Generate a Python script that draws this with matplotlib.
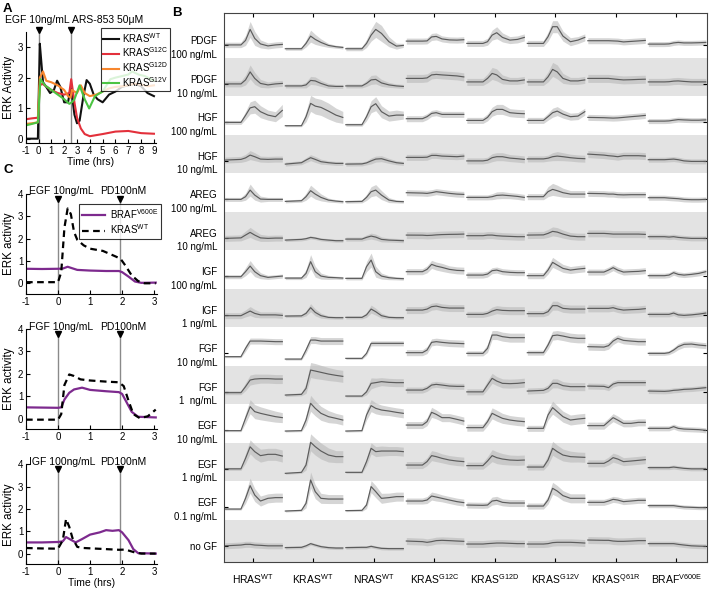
import numpy as np
import matplotlib.pyplot as plt

plt.rcParams['font.family'] = ['Liberation Sans', 'DejaVu Sans']
plt.rcParams['mathtext.fontset'] = 'custom'
plt.rcParams['mathtext.rm'] = 'Liberation Sans'
plt.rcParams['axes.unicode_minus'] = False
plt.rcParams['font.size'] = 7.5

# ========================================
# DATA - panel A (ERK activity after EGF, then ARS-853)
# ========================================
a_wt_t = [-1, -0.5, -0.05, 0.02, 0.1, 0.2, 0.35, 0.6, 0.9, 1.2, 1.45, 1.7, 2.0, 2.3, 2.5,
          2.65, 2.8, 3.0, 3.2, 3.5, 3.75, 4.0, 4.3, 4.6, 5.0, 5.5, 6.0, 6.5, 7.0, 7.5, 8.0, 8.5, 9.0]
a_wt = [0.02, 0.02, 0.02, 1.5, 3.1, 2.6, 1.85, 1.7, 1.5, 1.6, 1.9, 1.7, 1.2, 1.2, 1.65,
        1.3, 0.8, 0.52, 0.6, 1.4, 1.92, 1.8, 1.45, 1.3, 1.2, 1.45, 1.55, 1.7, 1.75, 1.8, 1.72, 1.5, 1.4]
a_g12c_t = [-1, -0.5, -0.05, 0.1, 0.3, 1.0, 1.5, 2.0, 2.4, 2.55, 2.8, 3.0, 3.3, 3.6, 4.0, 5.0,
            6.0, 7.0, 8.0, 9.0]
a_g12c = [0.65, 0.68, 0.7, 1.75, 1.8, 1.6, 1.5, 1.45, 1.5, 1.95, 1.2, 0.7, 0.35, 0.17, 0.1, 0.17,
          0.25, 0.27, 0.2, 0.18]
a_g12d_t = [-1, -0.5, -0.05, 0.1, 0.35, 0.6, 1.0, 1.5, 2.0, 2.3, 2.5, 2.6, 3.0, 3.3, 3.6, 4.0,
            4.5, 5.0, 5.5, 6.0, 6.5, 7.0, 7.5, 8.0, 8.5, 9.0]
a_g12d = [0.5, 0.52, 0.55, 2.0, 2.2, 1.9, 1.85, 1.75, 1.6, 1.4, 1.35, 1.6, 1.5, 1.75, 1.5, 1.4,
          1.45, 1.55, 1.65, 1.7, 1.72, 1.75, 1.8, 1.78, 1.72, 1.75]
a_g12v_t = [-1, -0.5, -0.05, 0.15, 0.5, 1.0, 1.5, 2.0, 2.4, 2.6, 2.8, 3.2, 3.6, 3.95, 4.4, 5.0,
            5.6, 6.0, 6.5, 7.0, 7.3, 7.8, 8.3, 9.0]
a_g12v = [0.45, 0.5, 0.55, 1.95, 1.75, 1.6, 1.45, 1.3, 1.15, 1.2, 1.3, 1.75, 1.3, 1.0, 1.4, 1.55,
          1.95, 2.0, 2.05, 2.1, 2.2, 2.1, 2.05, 1.9]
a_labels = ['KRAS$^{\\mathregular{WT}}$', 'KRAS$^{\\mathregular{G12C}}$',
            'KRAS$^{\\mathregular{G12D}}$', 'KRAS$^{\\mathregular{G12V}}$']
a_colors = ['#111111', '#e3303b', '#f7862e', '#4cc443']

# ========================================
# DATA - panel C (BRAF V600E vs KRAS WT, then PD)
# ========================================
c_braf_t = [
    [-1, -0.5, 0, 0.15, 0.3, 0.6, 1.0, 1.5, 1.9, 2.0, 2.2, 2.4, 2.6, 3.05],
    [-1, -0.5, 0, 0.1, 0.2, 0.35, 0.5, 0.75, 1.0, 1.5, 1.9, 2.0, 2.15, 2.3, 2.5, 3.05],
    [-1, -0.5, 0, 0.15, 0.25, 0.4, 0.55, 0.75, 1.0, 1.3, 1.5, 1.7, 1.9, 2.0, 2.2, 2.35, 2.5, 3.05],
]
c_braf = [
    [0.65, 0.64, 0.65, 0.66, 0.74, 0.6, 0.57, 0.55, 0.55, 0.5, 0.3, 0.08, 0.02, 0.03],
    [0.5, 0.49, 0.48, 0.5, 0.85, 1.15, 1.3, 1.38, 1.28, 1.22, 1.18, 1.1, 0.7, 0.3, 0.08, 0.05],
    [0.5, 0.5, 0.52, 0.55, 0.74, 0.62, 0.5, 0.65, 0.85, 0.95, 1.05, 1.02, 1.05, 0.95, 0.6, 0.2, 0.02, 0.0],
]
c_kras_t = [
    [-1, -0.5, 0, 0.1, 0.2, 0.3, 0.4, 0.5, 0.6, 0.8, 1.0, 1.4, 1.8, 1.95, 2.1, 2.3, 2.5, 2.7, 3.05],
    [-1, -0.5, 0, 0.1, 0.2, 0.35, 0.5, 0.7, 1.0, 1.5, 1.9, 2.05, 2.2, 2.35, 2.55, 2.8, 3.05],
    [-1, -0.5, 0, 0.15, 0.25, 0.35, 0.45, 0.6, 0.8, 1.5, 1.9, 2.1, 2.4, 2.6, 3.05],
]
c_kras = [
    [0.05, 0.05, 0.05, 0.5, 2.5, 3.35, 3.1, 2.3, 1.95, 1.7, 1.55, 1.45, 1.2, 1.1, 0.8, 0.35, 0.1, 0.0, 0.0],
    [-0.05, -0.05, -0.05, 0.2, 1.5, 1.97, 1.9, 1.75, 1.7, 1.65, 1.62, 1.45, 0.8, 0.2, 0.02, 0.1, 0.4],
    [0.25, 0.23, 0.22, 0.6, 1.55, 1.2, 0.7, 0.3, 0.25, 0.2, 0.17, 0.18, 0.05, 0.0, 0.0],
]
c_stim = ['EGF 10ng/mL', 'FGF 10ng/mL', 'IGF 100ng/mL']

# ========================================
# DATA - panel B (mean and spread, 8 cell lines per condition)
# sampled at fractions of each cell's time window
# ========================================
b_frac = [0, 0.28, 0.36, 0.44, 0.52, 0.62, 0.75, 0.88, 1.0]
b_cols = ['HRAS$^{\\mathregular{WT}}$', 'KRAS$^{\\mathregular{WT}}$', 'NRAS$^{\\mathregular{WT}}$',
          'KRAS$^{\\mathregular{G12C}}$', 'KRAS$^{\\mathregular{G12D}}$', 'KRAS$^{\\mathregular{G12V}}$',
          'KRAS$^{\\mathregular{Q61R}}$', 'BRAF$^{\\mathregular{V600E}}$']
b_rows = ['PDGF\n100 ng/mL', 'PDGF\n10 ng/mL', 'HGF\n100 ng/mL', 'HGF\n10 ng/mL',
          'AREG\n100 ng/mL', 'AREG\n10 ng/mL', 'IGF\n100 ng/mL', 'IGF\n1 ng/mL',
          'FGF\n10 ng/mL', 'FGF\n1  ng/mL', 'EGF\n10 ng/mL', 'EGF\n1 ng/mL',
          'EGF\n0.1 ng/mL', 'no GF']

pdgf100 = [
    [.05, .05, .5, 1.6, .7, .15, -.05, .05, .1],
    [-.33, -.33, .2, .93, .6, .3, 0, -.13, -.2],
    [-.33, -.33, .2, 1.03, 1.6, 1.2, .37, -.07, 0],
    [.43, .43, .45, .85, .9, .65, .55, .53, .57],
    [.2, .2, .37, 1.03, 1.27, .8, .53, .6, .8],
    [.2, .2, .87, 1.87, 1.87, .93, .37, .53, .8],
    [.47, .47, .47, .45, .43, .35, .4, .45, .5],
    [.13, .13, .15, .25, .3, .25, .25, .27, .3],
]
pdgf100_sd = [
    [.27, .27, .5, .8, .7, .4, .3, .3, .3],
    [.15, .15, .35, .6, .5, .35, .2, .15, .15],
    [.2, .2, .4, .6, .8, .8, .5, .3, .2],
    [.3, .3, .3, .35, .35, .3, .3, .3, .3],
    [.3, .3, .35, .5, .6, .45, .35, .35, .35],
    [.3, .3, .45, .6, .6, .5, .4, .35, .35],
    [.3, .3, .3, .3, .3, .3, .3, .3, .3],
    [.25, .25, .25, .25, .25, .25, .25, .25, .25],
]
pdgf10 = [
    [0, 0, .4, 1.2, .55, .05, -.1, 0, .05],
    [-.2, -.2, -.1, .35, .3, .05, -.2, -.25, -.25],
    [-.2, -.2, .05, .4, .45, .1, -.1, -.2, -.25],
    [.55, .55, .6, .9, .95, .9, .85, .8, .7],
    [.2, .2, .55, 1.05, .9, .45, .3, .3, .4],
    [.2, .2, .7, 1.45, 1.2, .55, .3, .3, .4],
    [.55, .55, .55, .5, .45, .4, .42, .45, .47],
    [.2, .2, .22, .28, .3, .25, .2, .2, .2],
]
pdgf10_sd = [
    [.3, .3, .5, .7, .6, .4, .3, .3, .3],
    [.2, .2, .3, .4, .4, .3, .25, .2, .2],
    [.2, .2, .3, .45, .45, .35, .25, .2, .2],
    [.4, .4, .4, .4, .4, .4, .4, .4, .4],
    [.35, .35, .45, .6, .6, .45, .35, .35, .35],
    [.35, .35, .5, .7, .7, .5, .35, .35, .35],
    [.4, .4, .4, .4, .4, .4, .4, .4, .4],
    [.35, .35, .35, .35, .35, .35, .35, .35, .35],
]
hgf100 = [
    [0, 0, .7, 1.45, 1.57, 1.07, .73, .57, 1.2],
    [-.33, -.33, .57, 1.9, 1.63, 1.5, 1.13, .73, .5],
    [-.23, -.23, .57, 1.57, 1.87, 1.07, .63, .73, .73],
    [.37, .37, .57, .9, .97, .8, .8, .8, .8],
    [.2, .2, .5, 1.07, 1.3, 1.3, .97, .9, .87],
    [.2, .2, .57, .97, 1.13, .83, .57, .63, 1.07],
    [.5, .47, .45, .43, .45, .5, .57, .63, .7],
    [.13, .13, .15, .22, .28, .25, .22, .22, .25],
]
hgf100_sd = [
    [.2, .2, .4, .6, .65, .6, .5, .5, .6],
    [.1, .1, .5, .8, .8, .8, .8, .7, .6],
    [.15, .15, .4, .6, .7, .6, .5, .5, .4],
    [.3, .3, .3, .3, .3, .3, .3, .3, .3],
    [.3, .3, .35, .45, .5, .5, .4, .4, .4],
    [.3, .3, .35, .45, .45, .4, .35, .35, .35],
    [.3, .3, .3, .3, .3, .3, .3, .3, .3],
    [.25, .25, .25, .25, .25, .25, .25, .25, .25],
]
hgf10 = [
    [.08, .15, .3, .58, .42, .18, .15, .18, .18],
    [-.32, -.18, .08, .32, .15, -.08, -.18, -.25, -.25],
    [-.32, -.3, -.2, 0, .18, .22, 0, -.18, -.25],
    [.35, .35, .37, .55, .55, .48, .45, .42, .48],
    [0, 0, .07, .32, .42, .42, .28, .22, .15],
    [.2, .2, .27, .42, .48, .42, .32, .25, .22],
    [.68, .58, .52, .48, .42, .52, .52, .52, .48],
    [.12, .12, .15, .18, .12, 0, -.05, -.05, -.05],
]
hgf10_sd = [
    [.3, .3, .35, .45, .4, .3, .3, .3, .3],
    [.2, .2, .25, .3, .3, .25, .2, .2, .2],
    [.2, .2, .2, .3, .3, .3, .25, .2, .2],
    [.3, .3, .3, .3, .3, .3, .3, .3, .3],
    [.3, .3, .3, .4, .4, .4, .35, .35, .35],
    [.3, .3, .3, .4, .45, .4, .35, .35, .35],
    [.35, .35, .35, .35, .35, .35, .35, .35, .35],
    [.25, .25, .25, .25, .25, .25, .25, .25, .25],
]
areg100 = [
    [0, 0, .27, .93, .43, .03, 0, 0, 0],
    [-.2, -.13, .27, .87, .53, .2, -.07, -.17, -.23],
    [-.23, -.2, .2, .77, .93, .43, -.07, -.2, -.23],
    [.67, .63, .6, .67, .77, .7, .6, .53, .5],
    [.2, .2, .2, .27, .4, .43, .37, .3, .2],
    [.27, .27, .77, 1.0, .87, .67, .53, .53, .53],
    [.6, .57, .53, .53, .47, .45, .47, .47, .47],
    [.17, .17, .13, .1, .07, 0, -.03, -.03, 0],
]
areg100_sd = [
    [.2, .2, .35, .6, .5, .3, .2, .2, .2],
    [.15, .15, .35, .55, .5, .35, .2, .15, .15],
    [.15, .15, .3, .5, .55, .45, .25, .15, .15],
    [.3, .3, .3, .3, .3, .3, .3, .3, .3],
    [.25, .25, .25, .3, .35, .35, .3, .3, .3],
    [.3, .3, .5, .6, .55, .45, .35, .35, .35],
    [.3, .3, .3, .3, .3, .3, .3, .3, .3],
    [.25, .25, .25, .25, .25, .25, .25, .25, .25],
]
areg10 = [
    [-.05, 0, .28, .55, .28, 0, -.05, -.02, -.02],
    [-.22, -.15, -.08, .05, -.02, -.15, -.22, -.28, -.28],
    [-.12, -.12, .05, .18, .08, -.15, -.22, -.25, -.28],
    [.28, .27, .24, .26, .3, .33, .35, .36, .38],
    [.22, .22, .28, .28, .22, .18, .15, .12, .12],
    [.28, .3, .45, .65, .58, .38, .18, .12, .12],
    [.45, .45, .42, .38, .38, .38, .38, .38, .35],
    [.12, .12, .08, .12, .05, 0, -.05, -.05, -.05],
]
areg10_sd = [
    [.3, .3, .4, .5, .45, .35, .3, .3, .3],
    [.15, .15, .15, .15, .15, .15, .15, .15, .15],
    [.2, .2, .25, .3, .3, .25, .2, .2, .2],
    [.35, .35, .35, .35, .35, .35, .35, .35, .35],
    [.35, .35, .35, .35, .35, .35, .35, .35, .35],
    [.35, .35, .4, .45, .45, .4, .35, .35, .35],
    [.35, .35, .35, .35, .35, .35, .35, .35, .35],
    [.25, .25, .25, .25, .25, .25, .25, .25, .25],
]
igf100 = [
    [-.03, -.03, .47, 1.03, .47, .07, -.1, -.03, .03],
    [-.17, -.17, .3, 1.47, .47, .03, -.1, -.13, -.17],
    [-.2, -.2, .97, 1.63, .47, .03, -.13, -.2, -.23],
    [.47, .47, .7, 1.2, 1.03, .9, .7, .6, .57],
    [.13, .13, .23, .57, .63, .47, .4, .37, .37],
    [.07, .07, .63, 1.4, 1.13, .8, .63, .73, .8],
    [.43, .43, .63, .87, .63, .43, .47, .5, .57],
    [.07, .07, .13, .37, .2, .13, .2, .3, .47],
]
igf100_sd = [
    [.2, .2, .4, .55, .5, .3, .2, .2, .2],
    [.15, .15, .4, .7, .55, .3, .2, .15, .15],
    [.15, .15, .5, .7, .55, .3, .2, .15, .15],
    [.3, .3, .35, .4, .4, .4, .35, .35, .35],
    [.3, .3, .3, .3, .3, .3, .3, .3, .3],
    [.3, .3, .4, .5, .45, .4, .35, .35, .35],
    [.3, .3, .3, .3, .3, .3, .3, .3, .3],
    [.25, .25, .25, .25, .25, .25, .25, .25, .25],
]
igf1 = [
    [-.08, -.08, .15, .38, .15, 0, 0, 0, -.05],
    [-.12, -.1, .15, .72, .25, -.08, -.25, -.28, -.28],
    [-.25, -.25, 0, .58, .32, -.08, -.25, -.28, -.28],
    [.48, .48, .58, .82, .88, .75, .68, .68, .68],
    [.05, .05, .15, .38, .52, .45, .42, .42, .42],
    [.12, .12, .32, .92, .92, .65, .58, .58, .58],
    [.65, .65, .65, .72, .58, .48, .52, .55, .62],
    [.05, .05, .05, .18, 0, -.05, 0, .08, .18],
]
igf1_sd = [
    [.3, .3, .35, .45, .4, .3, .3, .3, .3],
    [.15, .15, .25, .4, .35, .25, .15, .15, .15],
    [.15, .15, .25, .4, .35, .25, .15, .15, .15],
    [.35, .35, .35, .35, .35, .35, .35, .35, .35],
    [.3, .3, .3, .4, .4, .4, .4, .4, .4],
    [.3, .3, .35, .45, .45, .4, .4, .4, .4],
    [.35, .35, .35, .35, .35, .35, .35, .35, .35],
    [.25, .25, .25, .25, .25, .25, .25, .25, .25],
]
fgf10 = [
    [-.33, -.33, .5, 1.23, 1.23, 1.23, 1.2, 1.17, 1.17],
    [-.57, -.57, .33, 1.33, 1.33, 1.23, 1.23, 1.23, 1.23],
    [-.5, -.5, 0, 1.0, 1.0, 1.0, 1.0, 1.0, 1.0],
    [.07, .07, .33, 1.1, 1.17, 1.1, 1.03, 1.0, .97],
    [0, 0, .5, 1.83, 1.83, 1.67, 1.57, 1.57, 1.57],
    [.07, .07, .83, 1.77, 1.83, 1.73, 1.57, 1.5, 1.5],
    [.67, .63, .77, 1.23, 1.5, 1.3, 1.23, 1.17, 1.17],
    [0, 0, .07, .33, .67, .9, .93, .83, .77],
]
fgf10_sd = [
    [.1, .1, .3, .3, .3, .3, .3, .3, .3],
    [.1, .1, .3, .35, .35, .35, .35, .35, .35],
    [.1, .1, .2, .25, .25, .25, .25, .25, .25],
    [.3, .3, .35, .35, .35, .35, .35, .35, .35],
    [.25, .25, .4, .45, .45, .45, .45, .45, .45],
    [.25, .25, .4, .45, .45, .45, .45, .45, .45],
    [.35, .35, .35, .35, .35, .35, .35, .35, .35],
    [.2, .2, .2, .25, .3, .3, .3, .3, .3],
]
fgf1 = [
    [-.08, -.08, .52, 1.18, 1.28, 1.32, 1.32, 1.28, 1.28],
    [-.32, -.25, .35, 2.18, 2.08, 1.95, 1.78, 1.65, 1.55],
    [-.42, -.42, 0, .85, .92, 1.02, .95, .92, .92],
    [.18, .18, .35, .68, .75, .68, .58, .55, .55],
    [0, 0, .68, 1.35, 1.08, .85, .82, .85, .92],
    [.08, .15, .35, .85, .85, .62, .52, .52, .52],
    [.58, .55, .42, .78, .92, .92, .92, .92, .92],
    [.08, .05, .08, .15, .18, .25, .28, .35, .42],
]
fgf1_sd = [
    [.2, .2, .4, .5, .5, .45, .45, .45, .45],
    [.15, .15, .5, .75, .75, .7, .65, .6, .6],
    [.1, .1, .3, .55, .45, .4, .4, .4, .4],
    [.3, .3, .3, .3, .3, .3, .3, .3, .3],
    [.3, .3, .45, .5, .45, .45, .45, .45, .45],
    [.3, .3, .35, .45, .45, .4, .4, .4, .4],
    [.3, .3, .3, .3, .3, .3, .3, .3, .3],
    [.25, .25, .25, .25, .25, .25, .25, .25, .25],
]
egf10 = [
    [-.03, -.03, 1.2, 2.37, 1.87, 1.7, 1.53, 1.37, 1.27],
    [-.07, -.03, 1.03, 2.7, 2.2, 1.7, 1.37, 1.2, 1.03],
    [-.07, -.03, 1.53, 2.47, 2.2, 2.03, 1.93, 1.8, 1.7],
    [.53, .53, .87, 1.8, 1.6, 1.27, 1.27, 1.1, .93],
    [.27, .27, .87, 1.7, 1.47, 1.2, 1.03, .93, .87],
    [.2, .2, 1.53, 2.27, 1.87, 1.37, 1.03, 1.13, 1.2],
    [.47, .47, .87, 1.27, 1.03, .7, .7, .8, .8],
    [.2, .2, .2, .37, .2, .13, .1, .07, 0],
]
egf10_sd = [
    [.1, .1, .5, .7, .7, .65, .6, .55, .5],
    [.1, .1, .5, .8, .75, .7, .6, .5, .5],
    [.1, .1, .5, .6, .55, .5, .45, .45, .45],
    [.35, .35, .4, .5, .45, .4, .4, .4, .4],
    [.35, .35, .4, .55, .55, .5, .45, .45, .45],
    [.3, .3, .5, .65, .6, .55, .5, .5, .5],
    [.35, .35, .35, .4, .4, .35, .35, .35, .35],
    [.25, .25, .25, .25, .25, .25, .25, .25, .25],
]
egf1 = [
    [0, 0, 1.05, 2.2, 1.72, 1.32, 1.45, 1.45, 1.28],
    [-.45, -.35, .38, 2.65, 2.22, 1.78, 1.38, 1.22, 1.22],
    [-.35, -.35, .72, 2.05, 1.72, 1.78, 1.78, 1.78, 1.72],
    [.38, .38, .72, 1.32, 1.22, 1.05, .88, .78, .72],
    [.32, .32, .78, 1.32, 1.12, .98, .88, .85, .88],
    [.18, .18, .88, 2.05, 1.72, 1.38, 1.22, 1.18, 1.15],
    [.55, .55, .78, 1.12, .98, .72, .78, .85, .92],
    [.12, .12, .12, .18, .12, .05, 0, 0, 0],
]
egf1_sd = [
    [.15, .15, .5, .7, .7, .65, .6, .6, .6],
    [.1, .1, .5, .85, .85, .8, .7, .6, .6],
    [.1, .1, .4, .55, .5, .5, .45, .45, .45],
    [.35, .35, .4, .5, .5, .45, .45, .45, .45],
    [.35, .35, .45, .6, .6, .55, .5, .5, .5],
    [.3, .3, .5, .7, .65, .6, .55, .5, .5],
    [.35, .35, .4, .45, .45, .4, .4, .4, .4],
    [.2, .2, .2, .2, .2, .2, .2, .2, .2],
]
egf01 = [
    [-.17, -.17, .9, 2.17, 1.23, .63, .9, .97, .97],
    [-.37, -.3, .4, 2.73, 1.57, .9, .83, .83, .83],
    [-.33, -.3, .23, 2.07, 1.57, .9, .97, 1.07, 1.07],
    [.63, .63, .73, 1.13, 1.03, .9, .73, .57, .47],
    [.23, .2, .23, .63, .7, .5, .43, .43, .43],
    [.13, .13, .73, 1.9, 1.63, 1.17, .9, .9, .9],
    [.5, .5, .63, .8, .73, .57, .63, .7, .7],
    [.17, .17, .17, .17, .1, .03, 0, -.03, -.03],
]
egf01_sd = [
    [.1, .1, .5, .75, .65, .5, .45, .45, .45],
    [.1, .1, .45, .8, .7, .5, .45, .45, .45],
    [.1, .1, .35, .6, .6, .5, .45, .45, .45],
    [.3, .3, .35, .4, .4, .35, .35, .35, .35],
    [.3, .3, .3, .4, .4, .35, .35, .35, .35],
    [.3, .3, .4, .6, .55, .5, .45, .45, .45],
    [.3, .3, .3, .3, .3, .3, .3, .3, .3],
    [.2, .2, .2, .2, .2, .2, .2, .2, .2],
]
nogf = [
    [0, .08, .15, .15, .08, .05, 0, 0, 0],
    [-.18, -.15, 0, .22, .08, -.08, -.18, -.22, -.22],
    [-.18, -.15, -.15, -.05, -.15, -.25, -.28, -.28, -.28],
    [.48, .42, .35, .42, .52, .55, .52, .48, .45],
    [.18, .18, .22, .25, .28, .28, .25, .22, .22],
    [.18, .18, .22, .32, .35, .35, .35, .32, .28],
    [.58, .55, .55, .48, .45, .45, .48, .52, .52],
    [.22, .22, .22, .22, .15, .08, 0, -.03, -.05],
]
nogf_sd = [
    [.3, .3, .3, .3, .3, .3, .3, .3, .3],
    [.15, .15, .15, .15, .15, .15, .15, .15, .15],
    [.15, .15, .15, .15, .15, .15, .15, .15, .15],
    [.35, .35, .35, .35, .35, .35, .35, .35, .35],
    [.35, .35, .35, .35, .35, .35, .35, .35, .35],
    [.35, .35, .35, .35, .35, .35, .35, .35, .35],
    [.35, .35, .35, .35, .35, .35, .35, .35, .35],
    [.25, .25, .25, .25, .25, .25, .25, .25, .25],
]

b_means = [pdgf100, pdgf10, hgf100, hgf10, areg100, areg10, igf100, igf1,
           fgf10, fgf1, egf10, egf1, egf01, nogf]
b_sds = [pdgf100_sd, pdgf10_sd, hgf100_sd, hgf10_sd, areg100_sd, areg10_sd, igf100_sd, igf1_sd,
         fgf10_sd, fgf1_sd, egf10_sd, egf1_sd, egf01_sd, nogf_sd]


# ========================================
# FIGURE
# ========================================
W, H = 709, 591
fig = plt.figure(figsize=(W / 100, H / 100), dpi=100)


def px_axes(x0, y0, x1, y1):
    """Axes placed by pixel box (left, top, right, bottom)."""
    return fig.add_axes([x0 / W, 1 - y1 / H, (x1 - x0) / W, (y1 - y0) / H])


def px_text(x, y, s, **kw):
    fig.text(x / W, 1 - y / H, s, **kw)


def style_trace_axes(ax):
    for side in ['top', 'right']:
        ax.spines[side].set_visible(False)
    ax.tick_params(direction='in', length=3, labelsize=7, pad=2)


VLINE = '#8a8a8a'

# ---- Panel A ----
axA = px_axes(25.7, 31.7, 156, 143.3)
for t, y, lab, col in zip([a_wt_t, a_g12c_t, a_g12d_t, a_g12v_t], [a_wt, a_g12c, a_g12d, a_g12v],
                          a_labels, a_colors):
    axA.plot(t, y, color=col, lw=1.5, label=lab)
axA.axvline(0, color=VLINE, lw=1, zorder=0)
axA.axvline(2.5, color=VLINE, lw=1, zorder=0)
axA.plot([0, 2.5], [3.56, 3.56], 'kv', ms=5, clip_on=False)
axA.set_xlim(-1, 9.16)
axA.set_ylim(-0.13, 3.49)
axA.set_xticks(range(-1, 10))
axA.set_yticks([0, 1, 2, 3])
style_trace_axes(axA)
axA.set_xlabel('Time (hrs)', labelpad=1)
axA.set_ylabel('ERK Activity', labelpad=2, fontsize=8.3)
axA.legend(loc='upper left', bbox_to_anchor=(0.575, 1.03), fontsize=7, frameon=True,
           fancybox=False, edgecolor='k', handlelength=1.6, handletextpad=0.3,
           borderpad=0.25, labelspacing=0.1, borderaxespad=0).get_frame().set_linewidth(0.8)
px_text(5, 20, 'EGF 10ng/mL', va='center')
px_text(72, 20, 'ARS-853 50\u03bcM', va='center')

# ---- Panel C ----
c_boxes = [(26, 194, 156.7, 294), (26, 329, 156.7, 429.3), (26, 464.3, 156.7, 564.3)]
for i, box in enumerate(c_boxes):
    ax = px_axes(*box)
    ax.plot(c_braf_t[i], c_braf[i], color='#7d2a8e', lw=1.6, label='BRAF$^{\\mathregular{V600E}}$')
    ax.plot(c_kras_t[i], c_kras[i], color='k', lw=1.6, ls=(0, (3, 2)), label='KRAS$^{\\mathregular{WT}}$')
    ax.vlines([0, 1.92], -0.48, 3.8, color=VLINE, lw=1, zorder=0)
    ax.plot([0, 1.92], [3.78, 3.78], 'kv', ms=5, clip_on=False)
    ax.set_xlim(-1, 3.08)
    ax.set_ylim(-0.48, 4.0)
    ax.set_xticks([-1, 0, 1, 2, 3])
    ax.set_yticks([0, 1, 2, 3, 4])
    style_trace_axes(ax)
    ax.set_ylabel('ERK activity', labelpad=2, fontsize=8.3)
    px_text(29, box[1] - 2.5, c_stim[i], va='center')
    px_text(100, box[1] - 2.5, 'PD100nM', va='center')
    if i == 0:
        leg = ax.legend(loc='upper left', bbox_to_anchor=(0.405, 0.9), fontsize=7, frameon=True,
                        fancybox=False, edgecolor='k', handlelength=2.4, handletextpad=0.5,
                        borderpad=0.3, labelspacing=0.2, borderaxespad=0)
        leg.get_frame().set_linewidth(0.8)
    if i == 2:
        ax.set_xlabel('Time (hrs)', labelpad=1)

# ---- Panel B ----
axB = px_axes(224.3, 12.7, 707, 562)
n_rows = len(b_rows)
SCALE = 0.26          # row heights per ERK unit
ylo, yhi = -0.42, 13.85
for r in range(n_rows):
    base = n_rows - 1 - r
    if r % 2 == 1:
        lo = ylo if r == n_rows - 1 else base - 0.325
        axB.axhspan(lo, base + 0.675, color='#e3e3e3', lw=0, zorder=0)
    for c in range(len(b_cols)):
        x = c + 0.04 + np.array(b_frac) * 0.95
        m = base + SCALE * np.array(b_means[r][c])
        s = SCALE * np.array(b_sds[r][c])
        axB.fill_between(x, m - s, m + s, color='#b9b9b9', alpha=0.6, lw=0, zorder=1)
        axB.plot(x, m, color='#5c5c5c', lw=0.85, zorder=2)
axB.set_xlim(0.031, 8.01)
axB.set_ylim(ylo, yhi)
axB.set_xticks(np.arange(len(b_cols)) + 0.5)
axB.set_xticklabels(b_cols, fontsize=7.5)
axB.set_yticks(np.arange(n_rows)[::-1])
axB.set_yticklabels(b_rows, fontsize=7, linespacing=1.45)
axB.tick_params(axis='both', direction='in', length=3, top=True, right=True)
axB.tick_params(axis='x', pad=7)
axB.tick_params(axis='y', pad=5)
for sp in axB.spines.values():
    sp.set_color('#444444')

# ---- Panel letters ----
px_text(3, 9, 'A', fontsize=9.5, weight='bold', va='center')
px_text(172, 13, 'B', fontsize=9.5, weight='bold', va='center')
px_text(3, 170, 'C', fontsize=9.5, weight='bold', va='center')

fig.savefig('out.png', dpi=100)
